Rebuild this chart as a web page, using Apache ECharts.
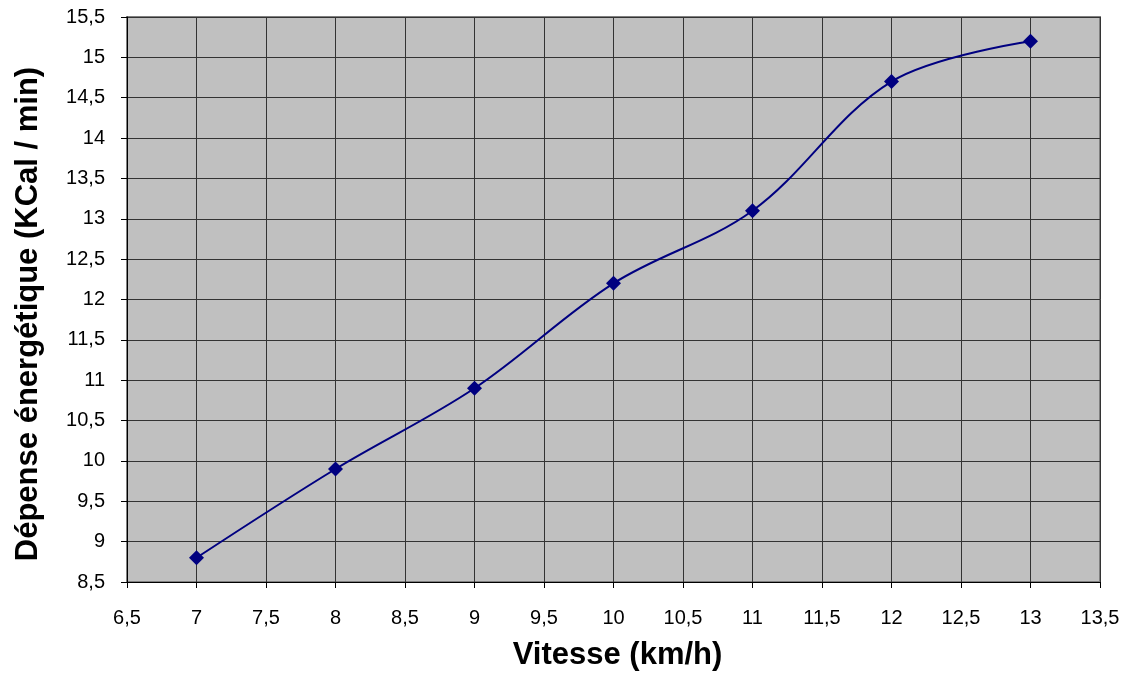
<!DOCTYPE html>
<html><head><meta charset="utf-8">
<script src="https://cdn.jsdelivr.net/npm/echarts@6/dist/echarts.min.js"></script>
<style>html,body{margin:0;padding:0;background:#fff}#c{width:1131px;height:677px}</style>
</head><body><div id="c"></div>
<script>
const speeds = [7, 8, 9, 10, 11, 12, 13];
const energy = [8.8, 9.9, 10.9, 12.2, 13.1, 14.7, 15.2];
const xTitle = 'Vitesse (km/h)';
const yTitle = 'Dépense énergétique (KCal / min)';
const fmt = v => String(v).replace('.', ',');
const chart = echarts.init(document.getElementById('c'));
chart.setOption({
  animation: false,
  grid: { left: 127, right: 31, top: 17, bottom: 95, show: true, backgroundColor: '#c0c0c0', borderColor: '#808080', borderWidth: 2 },
  graphic: [{
    type: 'text', x: 28, y: 314, rotation: Math.PI / 2,
    style: { text: yTitle, fontFamily: 'Liberation Sans', fontWeight: 'bold', fontSize: 31, fill: '#000', align: 'center', verticalAlign: 'middle' }
  }],
  xAxis: {
    type: 'value', min: 6.5, max: 13.5, interval: 0.5,
    name: xTitle, nameLocation: 'middle', nameGap: 58,
    nameTextStyle: { fontFamily: 'Liberation Sans', fontWeight: 'bold', fontSize: 31, color: '#000', padding: [0, 0, 0, 8] },
    axisLine: { onZero: false, lineStyle: { color: '#000', width: 1 } },
    axisTick: { show: true, length: 6, lineStyle: { color: '#000' } },
    axisLabel: { formatter: fmt, fontFamily: 'Liberation Sans', fontSize: 20, color: '#000', margin: 26 },
    splitLine: { show: true, lineStyle: { color: '#333', width: 1 } }
  },
  yAxis: {
    type: 'value', min: 8.5, max: 15.5, interval: 0.5,
    axisLine: { show: true, onZero: false, lineStyle: { color: '#000', width: 1 } },
    axisTick: { show: true, length: 6, lineStyle: { color: '#000' } },
    axisLabel: { formatter: fmt, fontFamily: 'Liberation Sans', fontSize: 20, color: '#000', margin: 22 },
    splitLine: { show: true, lineStyle: { color: '#333', width: 1 } }
  },
  series: [{
    type: 'line',
    data: speeds.map((x, i) => [x, energy[i]]),
    smooth: 0.35,
    symbol: 'diamond', symbolSize: 15,
    lineStyle: { color: '#000080', width: 2 },
    itemStyle: { color: '#000080' }
  }]
});
</script></body></html>
